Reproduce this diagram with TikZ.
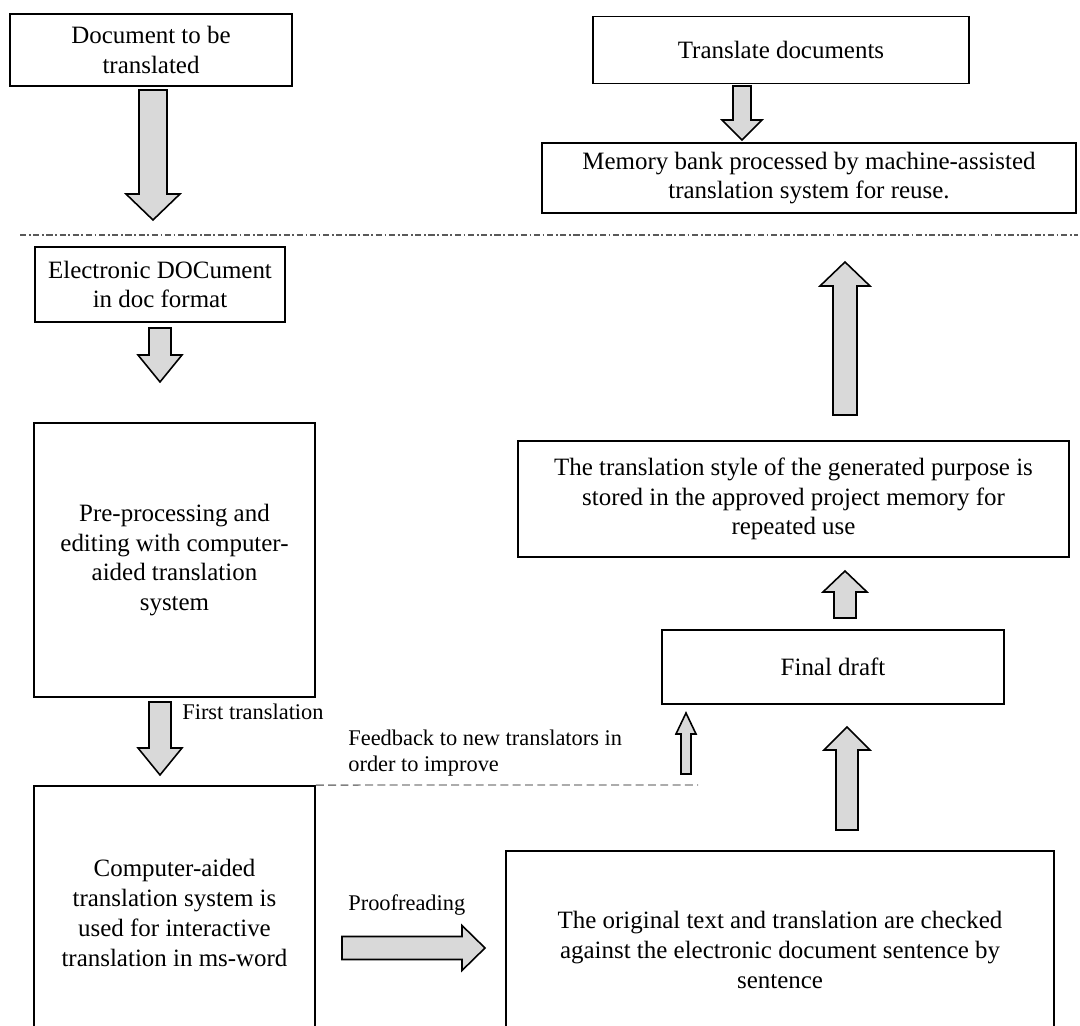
\documentclass[tikz,border=0pt]{standalone}
\usepackage{fontspec}
\setmainfont{Liberation Serif}
\usetikzlibrary{positioning}

% block arrows: x, tail, head base, tip, shaft half, head half
\newcommand\vfat[6]{\draw[fat] ({#1-#5},#2) -- ({#1+#5},#2) -- ({#1+#5},#3) -- ({#1+#6},#3) -- (#1,#4) -- ({#1-#6},#3) -- ({#1-#5},#3) -- cycle;}
\newcommand\hfat[6]{\draw[fat] (#2,{#1-#5}) -- (#2,{#1+#5}) -- (#3,{#1+#5}) -- (#3,{#1+#6}) -- (#4,#1) -- (#3,{#1-#6}) -- (#3,{#1-#5}) -- cycle;}

\tikzset{
  box/.style={draw, line width=1.1pt, align=center, inner sep=0pt, font=\fontsize{14.2}{17}\selectfont},
  lbl/.style={align=left, inner sep=0pt, font=\fontsize{12.75}{15}\selectfont},
  fat/.style={draw, fill=gray!30, line width=0.9pt, line join=miter},
}

\begin{document}
\begin{tikzpicture}[x=0.02cm,y=-0.02cm]
\path[use as bounding box, clip] (0,0) rectangle (1080,1026);

% nodes left
\node [box, minimum width=5.64cm, minimum height=1.44cm] (doc) at (151,50) {Document to be\\translated};
\node [box, minimum width=5cm, minimum height=1.5cm] (elec) at (160,284.5) {Electronic DOCument\\in doc format};
\node [box, minimum width=5.62cm, minimum height=5.48cm] (pre) at (174.5,560) {Pre-processing and\\editing with computer-\\aided translation\\system};
\node [box, minimum width=5.62cm, minimum height=5.08cm] (cat) at (174.5,913) {Computer-aided\\translation system is\\used for interactive\\translation in ms-word};

% nodes right
\node [box, minimum width=7.52cm, minimum height=1.34cm] (trans) at (781,50) {Translate documents};
\node [box, minimum width=10.7cm, minimum height=1.4cm] (mem) at (809,178) {Memory bank processed by machine-assisted\\translation system for reuse.};
\node [box, minimum width=11.02cm, minimum height=2.32cm] (style) at (793.5,499) {The translation style of the generated purpose is\\stored in the approved project memory for\\repeated use};
\node [box, minimum width=6.84cm, minimum height=1.48cm] (final) at (833,667) {Final draft};
\node [box, minimum width=10.96cm, minimum height=3.96cm] (orig) at (780,950) {The original text and translation are checked\\against the electronic document sentence by\\sentence};

% labels
\node [lbl, anchor=west] (first) at (182,712) {First translation};
\node [lbl, anchor=west] (feed) at (348,753) {Feedback to new translators in\\order to improve};
\node [lbl, anchor=west] (proof) at (348,905) {Proofreading};

% separator
\draw [black!65, line width=0.8pt, dash pattern=on 3.5pt off 1.5pt on 1pt off 1.5pt] (20,235) -- (1078,235);

% feedback line
\coordinate (fbend) at (698,785);
\draw [gray, line width=0.8pt, dash pattern=on 4.5pt off 2.5pt] (cat.north east) -- (fbend);

% arrows left
\vfat{153}{90}{194}{220}{14}{27}
\vfat{160}{328}{355}{382}{11}{22}
\vfat{160}{702}{748}{775}{11}{22}
\hfat{948}{342}{462}{485}{11.5}{22.5}

% arrows right
\vfat{742}{86}{120}{140}{9}{20}
\vfat{845}{415}{286}{262}{12}{25}
\vfat{845}{618}{592}{571}{11}{22}
\vfat{847}{830}{750}{727}{11}{23}
\vfat{686}{774}{734}{713}{5}{10}

\end{tikzpicture}
\end{document}
